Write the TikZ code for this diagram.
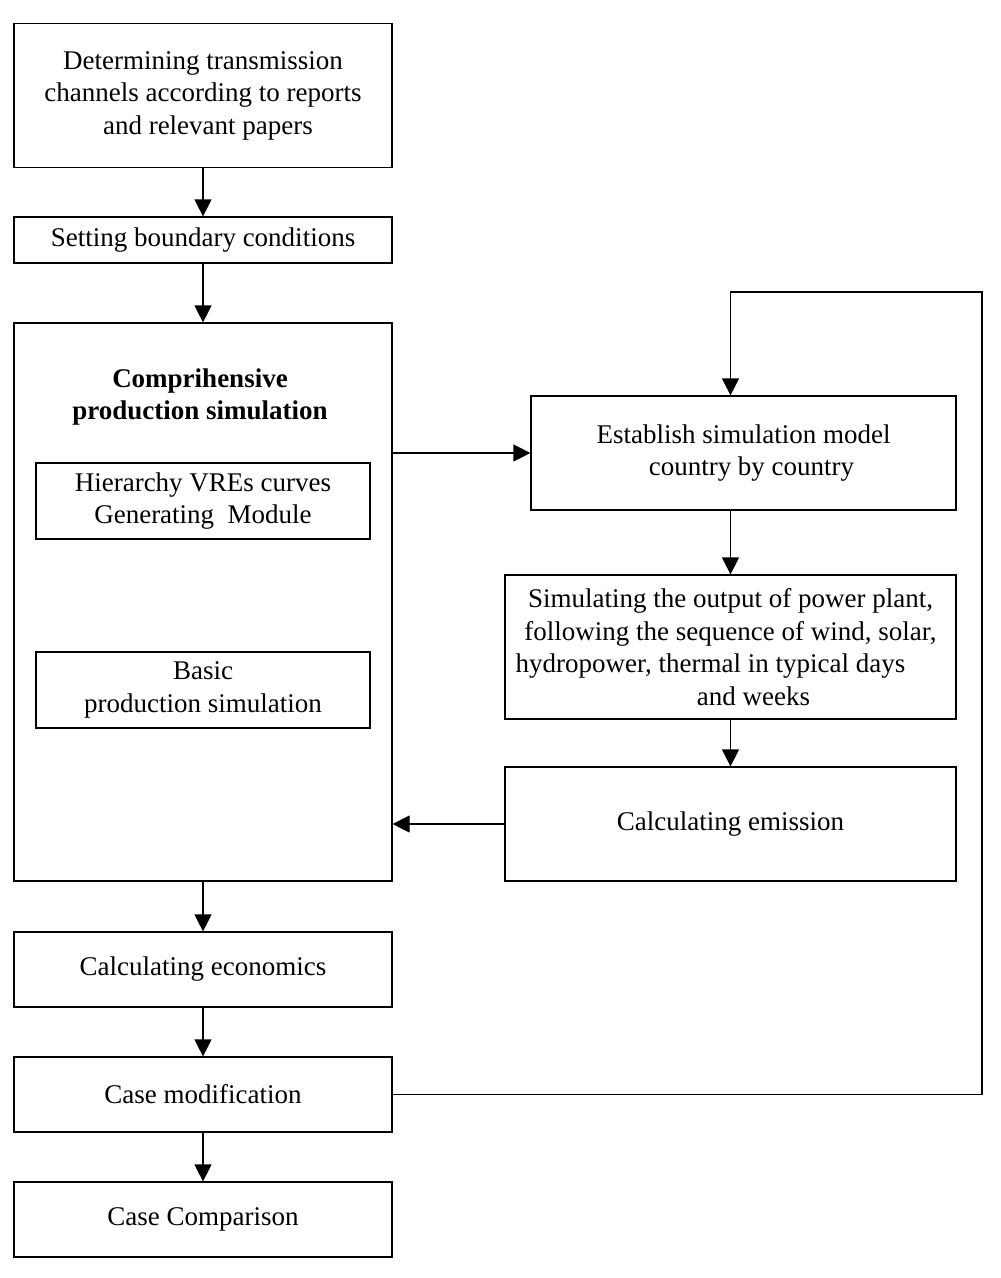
\documentclass[tikz,border=0pt]{standalone}
\usepackage{fontspec}
\setmainfont{Liberation Serif}
\usetikzlibrary{arrows.meta}
\begin{document}
\begin{tikzpicture}[x=1pt,y=-1pt,
  box/.style={draw, line width=1.2pt, inner sep=0pt, align=center, font=\fontsize{27}{32.5}\selectfont},
  plain/.style={inner sep=0pt, align=center, font=\fontsize{27}{32.5}\selectfont},
  arr/.style={line width=1.2pt, -{Triangle[length=17pt,width=17pt]}},
  ln/.style={line width=1.2pt}]
\useasboundingbox (0,0) rectangle (1001,1278);
\node[box, minimum width=378pt, minimum height=144pt] (det) at (203,95.5) {Determining transmission\\channels according to reports\\\hspace*{10pt}and relevant papers};
\node[box, minimum width=378pt, minimum height=46pt] (set) at (203,240) {Setting boundary conditions};
\node[box, minimum width=378pt, minimum height=558pt] (big) at (203,602) {};
\node[plain, font=\fontsize{27}{32.5}\selectfont\bfseries] (title) at (200,397) {Comprihensive\\production simulation};
\node[box, minimum width=334pt, minimum height=76pt] (hier) at (203,501) {Hierarchy VREs curves\\Generating\ \ Module};
\node[box, minimum width=334pt, minimum height=76pt] (basic) at (203,690) {Basic\\production simulation};
\node[box, minimum width=425pt, minimum height=114pt] (est) at (743.5,453) {Establish simulation model\\\hspace*{16pt}country by country};
\node[box, minimum width=451pt, minimum height=144pt] (sim) at (730.5,647) {Simulating the output of power plant,\\following the sequence of wind, solar,\\hydropower, thermal in typical days\rule{40pt}{0pt}\\\hspace*{46pt}and weeks};
\node[box, minimum width=451pt, minimum height=114pt] (emis) at (730.5,824) {Calculating emission};
\node[box, minimum width=378pt, minimum height=75pt] (econ) at (203,969.5) {Calculating economics};
\node[box, minimum width=378pt, minimum height=75pt] (mod) at (203,1094.5) {Case modification};
\node[box, minimum width=378pt, minimum height=75pt] (comp) at (203,1219.5) {Case Comparison};
\coordinate (loopc) at (982,292);
\draw[arr] (det.south) -- (set.north);
\draw[arr] (set.south) -- (big.north);
\draw[arr] (big.east |- est.west) -- (est.west);
\draw[arr] (est.south -| sim.north) -- (sim.north);
\draw[arr] (sim.south) -- (emis.north);
\draw[arr] (emis.west) -- (big.east |- emis.west);
\draw[arr] (big.south) -- (econ.north);
\draw[arr] (econ.south) -- (mod.north);
\draw[arr] (mod.south) -- (comp.north);
\draw[arr] (mod.east) -| (loopc) -| (est.north -| sim.north);
\end{tikzpicture}
\end{document}
